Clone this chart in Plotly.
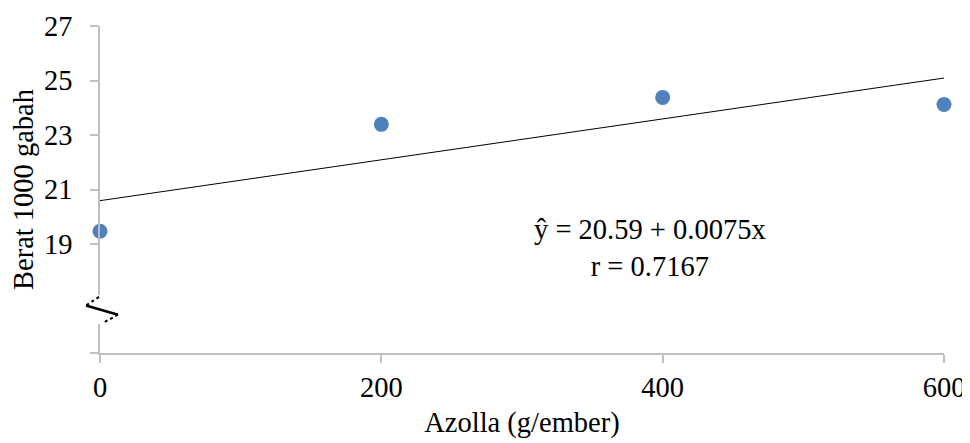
import plotly.graph_objects as go

# Data
azolla = [0, 200, 400, 600]
berat = [19.47, 23.39, 24.38, 24.12]
intercept = 20.59
slope = 0.0075
r_value = 0.7167
y_tickvals = [15, 19, 21, 23, 25, 27]
y_ticktext = ["", "19", "21", "23", "25", "27"]
x_tickvals = [0, 200, 400, 600]

FONT = "Liberation Serif, Times New Roman, serif"
AXIS_COLOR = "#BFBFBF"
FS = 28.5

# page body has an 8px default margin, so the figure is sized to fit inside it
W, H = 962, 435
ML, MR, MT, MB = 92, 26, 17.5, 90
PW = W - ML - MR
PH = H - MT - MB
Y0, Y1 = 15, 27

trend_x = [min(azolla), max(azolla)]
trend_y = [intercept + slope * v for v in trend_x]

fig = go.Figure()
fig.add_trace(go.Scatter(x=trend_x, y=trend_y, mode="lines",
                         line=dict(color="black", width=1), showlegend=False,
                         hoverinfo="skip"))
fig.add_trace(go.Scatter(x=azolla, y=berat, mode="markers",
                         marker=dict(color="#4F81BD", size=15),
                         cliponaxis=False, showlegend=False))

fig.add_annotation(x=391, y=18.85, xref="x", yref="y",
                   text=f"ŷ = {intercept:.2f} + {slope:.4f}x<br>r = {r_value:.4f}",
                   showarrow=False, align="center",
                   font=dict(family=FONT, size=FS, color="black"))

# Axis break symbol on the y axis (decoration), offsets in pixels
brk_y = 16.58
def px(dx):
    return dx / PW
def py(dy):
    return brk_y - dy * (Y1 - Y0) / PH   # dy positive = downward on screen

fig.add_shape(type="rect", xref="paper", yref="y",
              x0=px(-4), x1=px(4), y0=py(-15), y1=py(14),
              fillcolor="white", line=dict(width=0), layer="above")
fig.add_shape(type="line", xref="paper", yref="y",
              x0=px(-1), y0=py(-13), x1=px(-14), y1=py(-4.5),
              line=dict(color="black", width=2, dash="dot"), layer="above")
fig.add_shape(type="line", xref="paper", yref="y",
              x0=px(-14), y0=py(-4.5), x1=px(18), y1=py(4.8),
              line=dict(color="black", width=2.5), layer="above")
fig.add_shape(type="line", xref="paper", yref="y",
              x0=px(18), y0=py(4.8), x1=px(3), y1=py(13),
              line=dict(color="black", width=2, dash="dot"), layer="above")

fig.update_layout(
    width=W, height=H,
    margin=dict(l=ML, r=MR, t=MT, b=MB),
    paper_bgcolor="white", plot_bgcolor="white",
    font=dict(family=FONT, size=FS, color="black"),
    xaxis=dict(range=[0, 600], tickvals=x_tickvals, showgrid=False, zeroline=False,
               automargin=False,
               showline=True, linecolor=AXIS_COLOR, linewidth=1.5,
               ticks="outside", ticklen=8, tickcolor=AXIS_COLOR, tickwidth=1.5,
               tickfont=dict(family=FONT, size=FS),
               title=dict(text="Azolla (g/ember)", font=dict(family=FONT, size=FS), standoff=10)),
    yaxis=dict(range=[Y0, Y1], tickvals=y_tickvals, ticktext=y_ticktext,
               showgrid=False, zeroline=False, automargin=False,
               showline=True, linecolor=AXIS_COLOR, linewidth=1.5,
               ticks="outside", ticklen=8, tickcolor=AXIS_COLOR, tickwidth=1.5,
               ticklabelstandoff=12,
               tickfont=dict(family=FONT, size=FS),
               title=dict(text="Berat 1000 gabah", font=dict(family=FONT, size=FS), standoff=6)),
)

fig.write_html("out.html")
